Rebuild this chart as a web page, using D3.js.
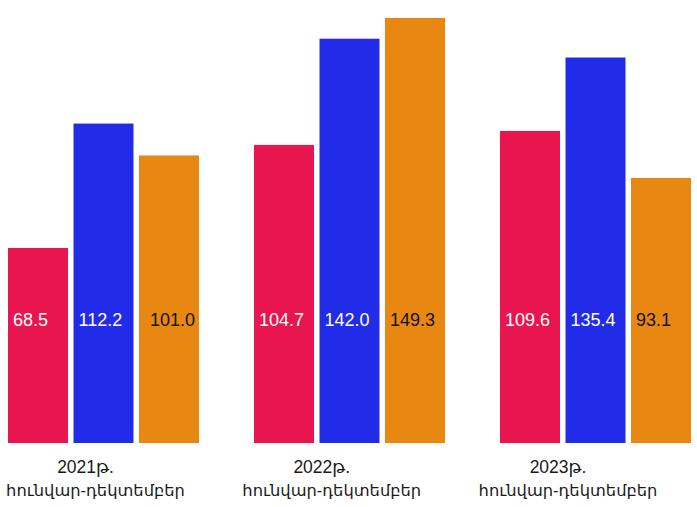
<!DOCTYPE html>
<html>
<head>
<meta charset="utf-8">
<script src="https://cdn.jsdelivr.net/npm/d3@7"></script>
<style>
  html, body { margin: 0; padding: 0; background: #ffffff; }
  svg { display: block; }
</style>
</head>
<body>
<svg id="chart" width="697" height="507"></svg>
<script>
// ---- data ----
const categories = ["2021թ.", "2022թ.", "2023թ."];
const periodLabel = "հունվար-դեկտեմբեր";
const seriesNames = ["A", "B", "C"];
const seriesA = [68.5, 104.7, 109.6];
const seriesB = [112.2, 142.0, 135.4];
const seriesC = [101.0, 149.3, 93.1];
const valueLabels = [
  ["68.5", "104.7", "109.6"],
  ["112.2", "142.0", "135.4"],
  ["101.0", "149.3", "93.1"]
];
const seriesColors = ["#e8154f", "#222be8", "#e88712"];
const labelColors = ["#ffffff", "#ffffff", "#111111"];

const seriesValues = [seriesA, seriesB, seriesC];
const rows = [];
categories.forEach((c, i) => {
  seriesNames.forEach((s, j) => {
    rows.push({ cat: c, series: s, si: j, value: seriesValues[j][i], label: valueLabels[j][i] });
  });
});

const svg = d3.select("#chart");
const baseline = 443;

const x0 = d3.scaleBand().domain(categories).range([8, 691]).paddingInner(0.2236).paddingOuter(0);
const x1 = d3.scaleBand().domain(seriesNames).range([0, x0.bandwidth()]).paddingInner(0.084).paddingOuter(0);
const y = d3.scaleLinear().domain([0, 150]).range([baseline, baseline - 150 * 2.847]);
const xLabel = d3.scalePoint().domain(categories).range([95.5, 568]);

// bars
svg.append("g").selectAll("rect").data(rows).join("rect")
  .attr("x", d => x0(d.cat) + x1(d.series))
  .attr("y", d => y(d.value))
  .attr("width", x1.bandwidth())
  .attr("height", d => y(0) - y(d.value))
  .attr("fill", d => seriesColors[d.si]);

// value labels
svg.append("g").selectAll("text").data(rows).join("text")
  .attr("x", d => x0(d.cat) + x1(d.series) + (d.label === "101.0" ? 11 : 5))
  .attr("y", 326)
  .attr("font-family", "'Liberation Sans', Arial, sans-serif")
  .attr("font-size", 18)
  .attr("fill", d => labelColors[d.si])
  .text(d => d.label);

// category labels
const cg = svg.append("g").selectAll("g").data(categories).join("g")
  .attr("transform", d => `translate(${xLabel(d)},0)`);
cg.append("text")
  .attr("x", -10)
  .attr("y", 473)
  .attr("text-anchor", "middle")
  .attr("font-family", "'Liberation Sans', 'DejaVu Sans', Arial, sans-serif")
  .attr("font-size", 17.5)
  .attr("fill", "#1a1a1a")
  .text(d => d);
cg.append("text")
  .attr("x", 0)
  .attr("y", 496)
  .attr("text-anchor", "middle")
  .attr("font-family", "'Liberation Sans', 'DejaVu Sans', Arial, sans-serif")
  .attr("font-size", 16.3)
  .attr("fill", "#1a1a1a")
  .text(periodLabel);
</script>
</body>
</html>
